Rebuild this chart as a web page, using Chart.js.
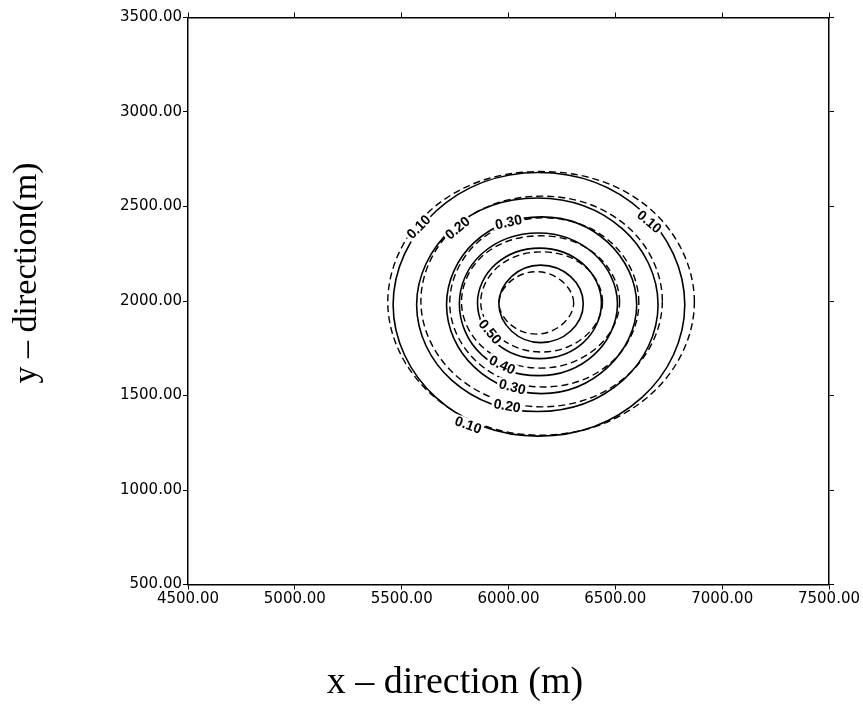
<!DOCTYPE html>
<html>
<head>
<meta charset="utf-8">
<script src="https://cdn.jsdelivr.net/npm/chart.js@4.4.1/dist/chart.umd.min.js"></script>
<style>
  html, body { margin: 0; padding: 0; background: #fff; }
</style>
</head>
<body>
<canvas id="chart" width="863" height="704"></canvas>
<script>
// axis ticks
const xTicks = [4500, 5000, 5500, 6000, 6500, 7000, 7500];
const yTicks = [500, 1000, 1500, 2000, 2500, 3000, 3500];

// contour levels, points (E, NE, N, NW, W, SW, S, SE)
const levels = ["0.10", "0.20", "0.30", "0.40", "0.50", "0.60"];

const solidContours = [
  [[6825,1980],[6625,2475],[6140,2680],[5660,2475],[5460,1980],[5660,1490],[6140,1285],[6625,1490]],
  [[6700,1980],[6535,2380],[6135,2545],[5735,2380],[5570,1980],[5735,1580],[6135,1415],[6535,1580]],
  [[6600,1980],[6465,2310],[6155,2445],[5840,2310],[5710,1980],[5840,1650],[6155,1510],[6465,1650]],
  [[6510,1985],[6400,2250],[6140,2360],[5875,2250],[5770,1985],[5875,1715],[6140,1605],[6400,1715]],
  [[6435,1990],[6350,2195],[6145,2280],[5940,2195],[5855,1990],[5940,1780],[6145,1695],[6350,1780]],
  [[6350,1985],[6290,2130],[6150,2190],[6015,2130],[5955,1985],[6015,1840],[6150,1780],[6290,1840]]
];

const dashedContours = [
  [[6870,1995],[6660,2490],[6150,2685],[5645,2490],[5435,1995],[5645,1500],[6150,1290],[6660,1500]],
  [[6720,2000],[6555,2395],[6155,2555],[5755,2395],[5590,2000],[5755,1605],[6155,1440],[6555,1605]],
  [[6610,1990],[6480,2310],[6165,2440],[5855,2310],[5725,1990],[5855,1675],[6165,1545],[6480,1675]],
  [[6520,1995],[6410,2245],[6150,2345],[5885,2245],[5780,1995],[5885,1750],[6150,1645],[6410,1750]],
  [[6440,1995],[6355,2185],[6155,2260],[5955,2185],[5870,1995],[5955,1810],[6155,1730],[6355,1810]],
  [[6305,1990],[6250,2105],[6130,2155],[6010,2105],[5955,1990],[6010,1875],[6130,1825],[6250,1875]]
];

// contour labels
const labelText = ["0.10", "0.20", "0.30", "0.10", "0.50", "0.40", "0.30", "0.20", "0.10"];
const labelX = [5578, 5761, 6000, 6660, 5915, 5971, 6018, 5994, 5812];
const labelY = [2393, 2387, 2419, 2420, 1838, 1663, 1547, 1447, 1346];
const labelAngle = [-45, -40, -12, 40, 50, 25, 15, 10, 20];

const xTitle = "x \u2013 direction (m)";
const yTitle = "y \u2013 direction(m)";

// wrap the ring so every visible piece gets smooth neighbours
function ring(points) {
  const n = points.length;
  const pts = [points[n - 1], ...points, points[0], points[1]];
  return pts.map(p => ({ x: p[0], y: p[1] }));
}

function contourDataset(points, level, dashed) {
  const data = ring(points);
  const last = data.length - 2;
  return {
    label: level + (dashed ? " analytic" : ""),
    data,
    showLine: true,
    pointRadius: 0,
    tension: 0.375,
    borderColor: "#000",
    borderWidth: dashed ? 1.4 : 1.6,
    borderDash: dashed ? [7, 4] : [],
    segment: {
      borderColor: c => (c.p0DataIndex === 0 || c.p0DataIndex === last) ? "rgba(0,0,0,0)" : undefined
    }
  };
}

const datasets = [];
solidContours.forEach((c, i) => datasets.push(contourDataset(c, levels[i], false)));
dashedContours.forEach((c, i) => datasets.push(contourDataset(c, levels[i], true)));

const contourLabels = {
  id: "contourLabels",
  afterDatasetsDraw(chart) {
    const { ctx, scales: { x, y } } = chart;
    ctx.save();
    ctx.font = "bold 14px 'Liberation Sans', Arial, sans-serif";
    ctx.textAlign = "center";
    ctx.textBaseline = "middle";
    labelText.forEach((t, i) => {
      ctx.save();
      ctx.translate(x.getPixelForValue(labelX[i]), y.getPixelForValue(labelY[i]));
      ctx.rotate(labelAngle[i] * Math.PI / 180);
      const w = ctx.measureText(t).width;
      ctx.fillStyle = "#fff";
      ctx.fillRect(-w / 2 - 2, -6, w + 4, 12);
      ctx.fillStyle = "#000";
      ctx.fillText(t, 0, 1);
      ctx.restore();
    });
    ctx.restore();
  }
};

const axisTitles = {
  id: "axisTitles",
  afterDraw(chart) {
    const ctx = chart.ctx;
    ctx.save();
    ctx.fillStyle = "#000";
    ctx.textAlign = "center";
    ctx.textBaseline = "middle";
    ctx.font = "38px 'Liberation Serif', 'Times New Roman', serif";
    ctx.fillText(xTitle, 455, 683);
    ctx.translate(27, 273);
    ctx.rotate(-Math.PI / 2);
    ctx.font = "34px 'Liberation Serif', 'Times New Roman', serif";
    ctx.fillText(yTitle, 0, 0);
    ctx.restore();
  }
};

const tickFont = { family: "'DejaVu Sans', sans-serif", size: 15 };
const gridStyle = { drawOnChartArea: false, drawTicks: true, tickLength: 5, color: "#000", lineWidth: 1 };
const borderStyle = { display: true, color: "#000", width: 1.5 };

new Chart(document.getElementById("chart").getContext("2d"), {
  type: "scatter",
  data: { datasets },
  options: {
    responsive: false,
    animation: false,
    events: [],
    layout: { padding: { left: 0, top: 17.5, right: 34, bottom: 0 } },
    plugins: { legend: { display: false }, tooltip: { enabled: false } },
    scales: {
      x: {
        type: "linear", position: "bottom", min: 4500, max: 7500,
        afterBuildTicks: s => { s.ticks = xTicks.map(v => ({ value: v })); },
        ticks: { callback: v => v.toFixed(2), color: "#000", font: tickFont, maxRotation: 0, autoSkip: false, padding: 1 },
        grid: gridStyle, border: borderStyle,
        afterFit: s => { s.height = 119.5; }
      },
      x2: {
        type: "linear", position: "top", min: 4500, max: 7500,
        afterBuildTicks: s => { s.ticks = xTicks.map(v => ({ value: v })); },
        ticks: { display: false },
        grid: gridStyle, border: borderStyle,
        afterFit: s => { s.height = 0; }
      },
      y: {
        type: "linear", position: "left", min: 500, max: 3500,
        afterBuildTicks: s => { s.ticks = yTicks.map(v => ({ value: v })); },
        ticks: { callback: v => v.toFixed(2), color: "#000", font: tickFont, autoSkip: false, padding: 1 },
        grid: gridStyle, border: borderStyle,
        afterFit: s => { s.width = 188; }
      },
      y2: {
        type: "linear", position: "right", min: 500, max: 3500,
        afterBuildTicks: s => { s.ticks = yTicks.map(v => ({ value: v })); },
        ticks: { display: false },
        grid: gridStyle, border: borderStyle,
        afterFit: s => { s.width = 0; }
      }
    }
  },
  plugins: [contourLabels, axisTitles]
});
</script>
</body>
</html>
